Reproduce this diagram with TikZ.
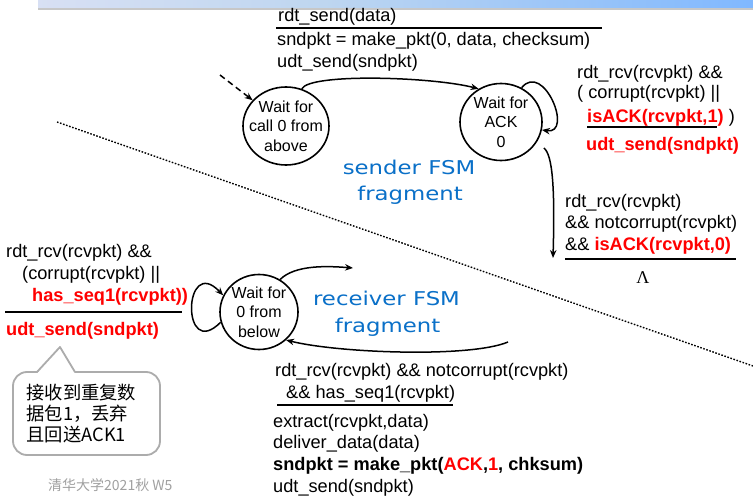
\documentclass[tikz,border=0pt]{standalone}
\usepackage{fontspec}
\setmainfont{Liberation Sans}
\newfontfamily\cjkfont{Noto Sans CJK SC}
\newfontfamily\fsmfont[FakeStretch=1.2]{DejaVu Sans}
\newfontfamily\lamfont{Liberation Serif}
\usetikzlibrary{shapes.geometric,arrows.meta}

\definecolor{fsmblue}{RGB}{10,112,200}
\definecolor{calloutgray}{RGB}{172,172,172}
\definecolor{footgray}{RGB}{160,160,160}
\definecolor{barA}{RGB}{248,236,248}
\definecolor{barB}{RGB}{190,214,240}
\definecolor{barC}{RGB}{128,184,255}
\definecolor{barD}{RGB}{104,56,240}
\pgfdeclarehorizontalshading{titlebar}{100bp}{color(0bp)=(barA); color(45bp)=(barB); color(75bp)=(barC); color(100bp)=(barD)}

\tikzset{
  state/.style={ellipse, draw, line width=1.6pt, inner sep=0pt},
  statetext/.style={align=center, inner sep=0pt, font=\fontsize{16}{19.5}\selectfont},
  lbl/.style={anchor=base west, inner sep=0pt, font=\fontsize{18.2}{22}\selectfont},
  boldlbl/.style={lbl, font=\fontsize{18.2}{22}\selectfont\bfseries},
  rule/.style={line width=2.6pt},
  trans/.style={line width=1.5pt, -{Stealth[length=8pt,width=6.5pt]}},
  fsmlbl/.style={anchor=base, inner sep=0pt, text=fsmblue, font=\fsmfont\fontsize{19}{26}\selectfont},
  callout/.style={draw=calloutgray, line width=1.8pt, rounded corners=14pt, fill=white,
    minimum width=147pt, minimum height=83pt, inner xsep=13.5pt, text width=120pt,
    align=left, font=\cjkfont\fontsize{18.3}{21}\selectfont},
}

\begin{document}
\begin{tikzpicture}[x=1pt,y=-1pt]
\useasboundingbox (0,0) rectangle (753,503);
\fill[white] (0,0) rectangle (753,503);

% title bar with its shadow
\fill[black!22] (38,8) rectangle (753,10);
\shade[shading=titlebar] (38,0) rectangle (753,8);

% divider between sender and receiver
\coordinate (divA) at (57,122);
\coordinate (divB) at (753,366);
\draw[line width=1.4pt, dash pattern=on 1.6pt off 1.6pt] (divA) -- (divB);

% ---------------- sender states ----------------
\node[state, minimum width=86pt, minimum height=78pt,
  label={[statetext]center:Wait for\\call 0 from\\above}] (s0) at (286,126) {};
\node[state, minimum width=82pt, minimum height=77pt,
  label={[statetext]center:Wait for\\ACK\\0}] (s1) at (501,122) {};

\coordinate (init) at (220,75);
\draw[trans, dash pattern=on 6pt off 4pt] (init) -- (s0);
\draw[trans] (s0.67) .. controls +(8,-16) and +(-46,-12) .. (s1.124);
\draw[trans] (s1.59) .. controls +(22,-27) and +(32,5) .. (s1.-11);
\coordinate (ackend) at (553,258);
\draw[trans, shorten <=9pt] (s1.-30) .. controls +(16,12) and +(2,-70) .. (ackend);

\node[fsmlbl] (sl1) at (409,174) {sender FSM};
\node[fsmlbl] (sl2) at (410,200) {fragment};

% send transition
\node[lbl] (t1) at (278,22) {rdt\_send(data)};
\draw[rule] (276,28) -- (602,28);
\node[lbl] (t2) at (277,46) {sndpkt = make\_pkt(0, data, checksum)};
\node[lbl] (t3) at (277,68) {udt\_send(sndpkt)};

% resend on corrupt / wrong ACK
\node[lbl] (u1) at (577,78) {rdt\_rcv(rcvpkt) \&\&};
\node[lbl] (u2) at (577,99) {( corrupt(rcvpkt) ||};
\node[lbl] (u3) at (587,122) {\textcolor{red}{\bfseries isACK(rcvpkt,1)} )};
\draw[rule] (587,127) -- (717,127);
\node[boldlbl, text=red] (u4) at (586,150) {udt\_send(sndpkt)};

% correct ACK received
\node[lbl] (v1) at (565,207) {rdt\_rcv(rcvpkt)};
\node[lbl] (v2) at (565,228) {\&\& notcorrupt(rcvpkt)};
\node[lbl] (v3) at (565,250) {\&\& \textcolor{red}{\bfseries isACK(rcvpkt,0)}};
\draw[rule] (565,259) -- (736,259);
\node[anchor=base, inner sep=0pt, font=\lamfont\fontsize{18}{20}\selectfont] (lam) at (643,283) {Λ};

% ---------------- receiver state ----------------
\node[state, minimum width=78pt, minimum height=75pt,
  label={[statetext]center:Wait for\\0 from\\below}] (r0) at (259,312) {};

\draw[trans] (r0.195) .. controls +(-40,40) and +(-40,-42) .. (r0.155);
\coordinate (rtop) at (353,268);
\draw[trans] (r0.57) .. controls +(15,-15) and +(-25,-2) .. (rtop);
\coordinate (rbot) at (508,342);
\draw[trans] (rbot) .. controls +(-38,16) and +(52,13) .. (r0.-46);

\node[fsmlbl] (rl1) at (386.5,305) {receiver FSM};
\node[fsmlbl] (rl2) at (387.5,332) {fragment};

% duplicate packet: resend ACK
\node[lbl] (w1) at (6,257) {rdt\_rcv(rcvpkt) \&\&};
\node[lbl] (w2) at (22,279) {(corrupt(rcvpkt) ||};
\node[boldlbl, text=red] (w3) at (32,301) {has\_seq1(rcvpkt))};
\draw[rule] (5,312) -- (182,312);
\node[boldlbl, text=red] (w4) at (6,335) {udt\_send(sndpkt)};

% expected packet: deliver
\node[lbl] (b1) at (275,376) {rdt\_rcv(rcvpkt) \&\& notcorrupt(rcvpkt)};
\node[lbl] (b2) at (286,398) {\&\& has\_seq1(rcvpkt)};
\draw[rule] (277,405) -- (453,405);
\node[lbl] (b3) at (273,427) {extract(rcvpkt,data)};
\node[lbl] (b4) at (273,448) {deliver\_data(data)};
\node[boldlbl] (b5) at (273,470) {sndpkt = make\_pkt(\textcolor{red}{ACK},\textcolor{red}{1}, chksum)};
\node[lbl] (b6) at (273,492) {udt\_send(sndpkt)};

% callout note
\node[callout] (note) at (86.5,413.5) {接收到重复数\\据包1，丢弃\\且回送ACK1};
\fill[white] (37,373.6) -- (60,347) -- (75,373.6) -- cycle;
\draw[calloutgray, line width=1.8pt, line join=round] (37,372) -- (60,347) -- (75,372);

% footer
\node[anchor=base west, inner sep=0pt, text=footgray, font=\cjkfont\fontsize{14}{16}\selectfont] (footer) at (48,490) {清华大学2021秋 W5};
\end{tikzpicture}
\end{document}
